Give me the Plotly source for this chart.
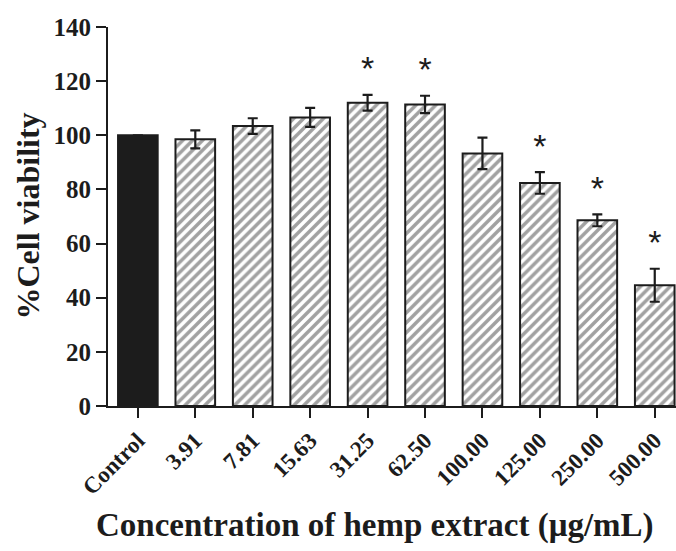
import plotly.graph_objects as go

categories = ["Control", "3.91", "7.81", "15.63", "31.25", "62.50", "100.00", "125.00", "250.00", "500.00"]
viability = [100.0, 98.5, 103.4, 106.6, 112.0, 111.4, 93.3, 82.4, 68.6, 44.6]
sd = [0.0, 3.3, 2.9, 3.5, 2.9, 3.2, 5.8, 4.0, 2.2, 6.1]
significant = [False, False, False, False, True, True, False, True, True, True]
y_ticks = [0, 20, 40, 60, 80, 100, 120, 140]

x_title = "Concentration of hemp extract (μg/mL)"
y_title = "%Cell viability"

INK = "#1c1c1c"
SERIF = "Liberation Serif"

idx = list(range(len(categories)))
fills = [INK if c == "Control" else "white" for c in categories]
shapes = ["" if c == "Control" else "/" for c in categories]

fig = go.Figure()
fig.add_trace(go.Bar(
    x=idx, y=viability, width=0.69,
    marker=dict(color=fills, line=dict(color=INK, width=2),
                pattern=dict(shape=shapes, fgcolor="#000000", bgcolor="white",
                             size=7, solidity=0.5, fillmode="overlay")),
    error_y=dict(type="data", array=sd, visible=True, color=INK, thickness=2.2, width=5),
    showlegend=False, hoverinfo="skip",
))

gap = 8.5
star_x = [i for i, s in zip(idx, significant) if s]
star_y = [v + e + gap for v, e, s in zip(viability, sd, significant) if s]
fig.add_trace(go.Scatter(
    x=star_x, y=star_y, mode="text", text=["*"] * len(star_x),
    textposition="middle center",
    textfont=dict(family="Liberation Sans", size=34, color=INK),
    showlegend=False, hoverinfo="skip",
))

fig.update_layout(
    width=676, height=551,
    margin=dict(l=108, r=0, t=27, b=145, pad=0),
    plot_bgcolor="white", paper_bgcolor="white",
    bargap=0.3,
    xaxis=dict(
        range=[-0.52, 9.37], tickmode="array", tickvals=idx, ticktext=categories,
        tickangle=-45, ticks="outside", ticklen=10, tickwidth=2, tickcolor=INK,
        showline=True, linewidth=2, linecolor=INK, showgrid=False, zeroline=False,
        tickfont=dict(family=SERIF, size=23, color=INK, weight="bold"),
    ),
    yaxis=dict(
        range=[0, 140], tickmode="array", tickvals=y_ticks,
        ticks="outside", ticklen=10, tickwidth=2, tickcolor=INK,
        showline=True, linewidth=2, linecolor=INK, showgrid=False, zeroline=False,
        tickfont=dict(family=SERIF, size=25, color=INK, weight="bold"),
    ),
    annotations=[
        dict(text=x_title, xref="paper", yref="paper", x=0.47, y=-0.314,
             xanchor="center", yanchor="middle", showarrow=False,
             font=dict(family=SERIF, size=33, color=INK, weight="bold")),
        dict(text=y_title, xref="paper", yref="paper", x=-0.1426, y=0.5,
             xanchor="center", yanchor="middle", textangle=-90, showarrow=False,
             font=dict(family=SERIF, size=32, color=INK, weight="bold")),
    ],
)

fig.write_html("out.html")
